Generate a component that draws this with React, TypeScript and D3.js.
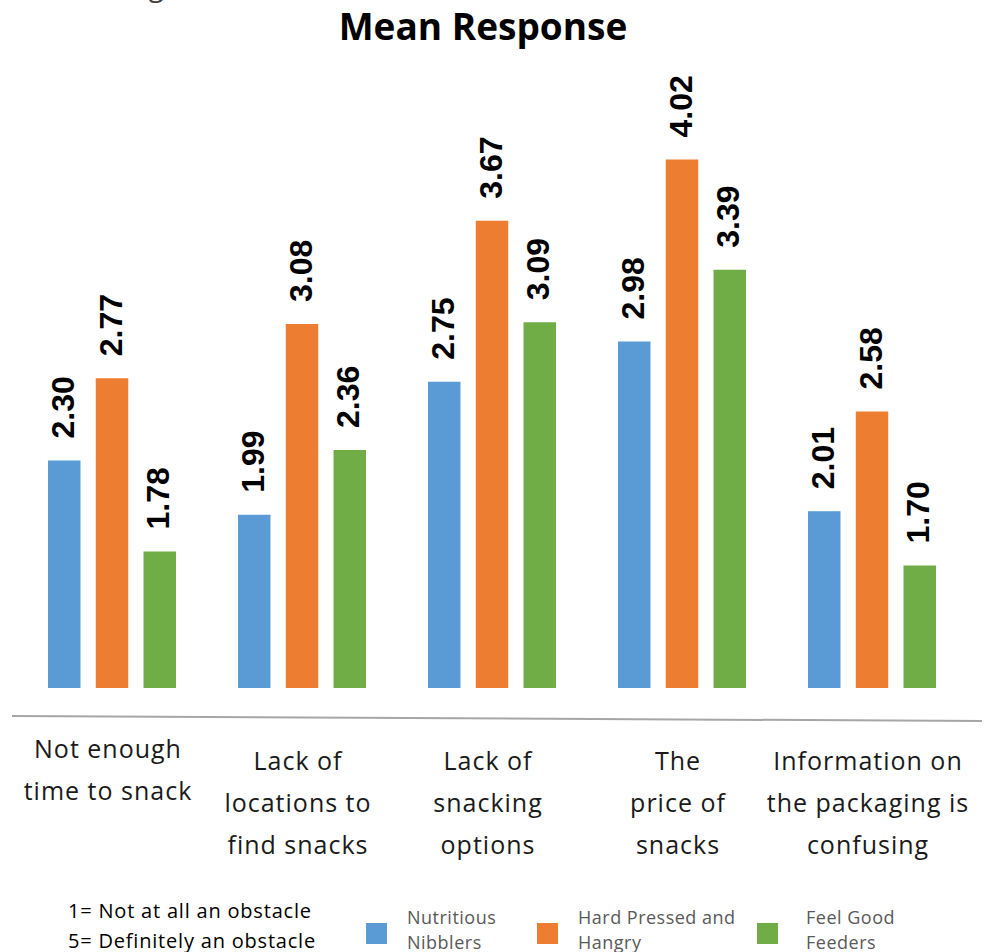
import React from "react";
import * as d3 from "d3";

const categories = [
  ["Not enough", "time to snack"],
  ["Lack of", "locations to", "find snacks"],
  ["Lack of", "snacking", "options"],
  ["The", "price of", "snacks"],
  ["Information on", "the packaging is", "confusing"],
];
const seriesNames = ["Nutritious Nibblers", "Hard Pressed and Hangry", "Feel Good Feeders"];
const legendLines = [["Nutritious", "Nibblers"], ["Hard Pressed and", "Hangry"], ["Feel Good", "Feeders"]];
const nutritiousNibblers = [2.3, 1.99, 2.75, 2.98, 2.01];
const hardPressedHangry = [2.77, 3.08, 3.67, 4.02, 2.58];
const feelGoodFeeders = [1.78, 2.36, 3.09, 3.39, 1.7];
const scaleNotes = ["1= Not at all an obstacle", "5= Definitely an obstacle"];
const colors = ["#5B9BD5", "#ED7D31", "#70AD47"];

export default function App() {
  const W = 995;
  const H = 952;
  const series = [nutritiousNibblers, hardPressedHangry, feelGoodFeeders];
  const catIdx = categories.map((_, i) => String(i));
  const x0 = d3.scaleBand().domain(catIdx).range([17, 967]).padding(0);
  const x1 = d3.scaleBand().domain(seriesNames).range([-64, 64]).paddingInner(0.32);
  const y = d3.scaleLinear().domain([1, 5]).range([688, -12]);
  const fmt = d3.format(".2f");
  const legendX = [366, 537, 757];

  return (
    <svg width={W} height={H} style={{ position: "absolute", left: 0, top: 0 }}>
      <rect width={W} height={H} fill="#fff" />
      <text x={48} y={-4} fontFamily="Open Sans" fontSize={28} fill="#404040">Snacking</text>
      <text x={483} y={40} textAnchor="middle" fontFamily="Open Sans" fontWeight="bold" fontSize={37} fill="#000">
        Mean Response
      </text>
      {categories.map((_, ci) => {
        const cx = (x0(String(ci)) as number) + x0.bandwidth() / 2;
        return (
          <g key={ci}>
            {series.map((s, si) => {
              const bx = cx + (x1(seriesNames[si]) as number);
              const bw = x1.bandwidth();
              const top = y(s[ci]);
              const lx = bx + bw / 2 - 2;
              const ly = top - 22;
              return (
                <g key={si}>
                  <rect x={bx} y={top} width={bw} height={y(1) - top} fill={colors[si]} />
                  <text
                    x={lx}
                    y={ly}
                    dy="0.36em"
                    transform={`rotate(-90, ${lx}, ${ly})`}
                    fontFamily="Liberation Sans"
                    fontWeight="bold"
                    fontSize={32}
                    fill="#000"
                  >
                    {fmt(s[ci])}
                  </text>
                </g>
              );
            })}
          </g>
        );
      })}
      <line x1={12} y1={716} x2={982} y2={721} stroke="#a6a6a6" strokeWidth={2} />
      {categories.map((lines, ci) => {
        const cx = (x0(String(ci)) as number) + x0.bandwidth() / 2 - 4;
        const startY = lines.length === 2 ? 758 : 770;
        return (
          <text key={ci} textAnchor="middle" fontFamily="Open Sans" fontSize={25} letterSpacing={1} fill="#1a1a1a">
            {lines.map((ln, li) => (
              <tspan key={li} x={cx} y={startY + li * 42}>{ln}</tspan>
            ))}
          </text>
        );
      })}
      {scaleNotes.map((t, i) => (
        <text key={i} x={68} y={918 + i * 30} fontFamily="Open Sans" fontSize={20} letterSpacing={0.8} fill="#000">{t}</text>
      ))}
      {seriesNames.map((name, si) => (
        <g key={name}>
          <rect x={legendX[si]} y={923} width={21} height={21} fill={colors[si]} />
          {legendLines[si].map((ln, li) => (
            <text key={li} x={legendX[si] + (si === 2 ? 49 : 41)} y={924 + li * 25} fontFamily="Open Sans" fontSize={18} letterSpacing={0.5} fill="#595959">
              {ln}
            </text>
          ))}
        </g>
      ))}
    </svg>
  );
}
